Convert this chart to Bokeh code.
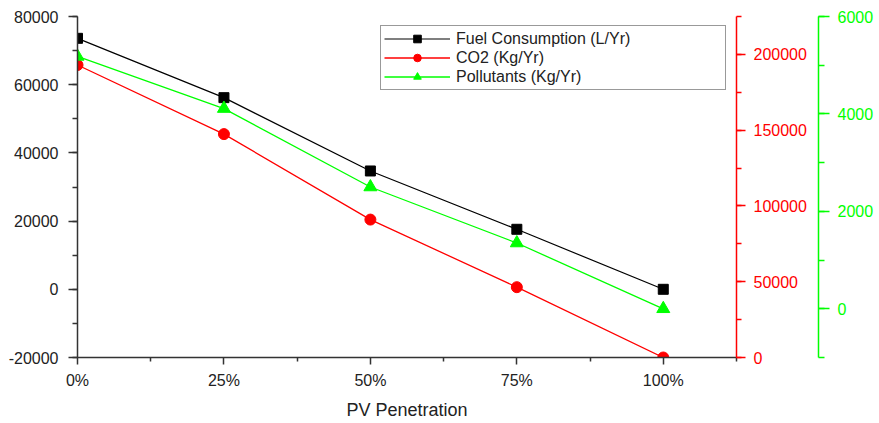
from bokeh.plotting import figure
from bokeh.models import (Range1d, LinearAxis, FixedTicker, PrintfTickFormatter,
                          Legend, LegendItem)
from bokeh.embed import file_html
from bokeh.resources import INLINE

# PV penetration levels (percent) and their tick labels
pv_share = [0, 25, 50, 75, 100]
pv_tick_labels = ["0%", "25%", "50%", "75%", "100%"]

# Yearly figures for each PV penetration level
fuel_l_per_yr = [73600, 56200, 34700, 17600, 0]
co2_kg_per_yr = [193000, 147400, 91000, 46400, 0]
pollutants_kg_per_yr = [5180, 4110, 2500, 1350, 0]

series_names = ["Fuel Consumption (L/Yr)", "CO2 (Kg/Yr)", "Pollutants (Kg/Yr)"]

FONT = "Liberation Sans"
INK = "#222222"
AXIS_GREY = "#333333"
RED = "#ff0000"
GREEN = "#00ff00"

p = figure(width=879, height=423, output_backend="svg", toolbar_location=None,
           x_range=Range1d(0, 112.5), y_range=Range1d(-20000, 80000),
           min_border_left=77, min_border_right=143,
           min_border_top=16, min_border_bottom=66)
p.outline_line_color = None
p.grid.visible = False
p.background_fill_color = "white"
p.border_fill_color = "white"
p.extra_y_ranges = {"co2": Range1d(0, 225000), "poll": Range1d(-1000, 6000)}

# x axis
xa = p.xaxis[0]
xa.ticker = FixedTicker(ticks=pv_share, minor_ticks=[12.5, 37.5, 62.5, 87.5, 112.5])
xa.major_label_overrides = {v: lab for v, lab in zip(pv_share, pv_tick_labels)}
xa.axis_label = "PV Penetration"
xa.axis_label_text_font = FONT
xa.axis_label_text_font_size = "18px"
xa.axis_label_text_font_style = "normal"
xa.axis_label_text_color = INK
xa.axis_label_standoff = 8
xa.major_label_text_font = FONT
xa.major_label_text_font_size = "16px"
xa.major_label_text_color = INK
xa.major_label_standoff = 7
xa.axis_line_color = AXIS_GREY
xa.axis_line_width = 1.5
xa.major_tick_line_color = AXIS_GREY
xa.minor_tick_line_color = AXIS_GREY
xa.major_tick_line_width = 1.5
xa.minor_tick_line_width = 1.5
xa.major_tick_in = 0
xa.major_tick_out = 7
xa.minor_tick_in = 0
xa.minor_tick_out = 4

# left axis: fuel consumption
ya = p.yaxis[0]
ya.ticker = FixedTicker(ticks=list(range(-20000, 80001, 20000)),
                        minor_ticks=list(range(-20000, 80001, 10000)))
ya.formatter = PrintfTickFormatter(format="%d")
ya.major_label_text_font = FONT
ya.major_label_text_font_size = "16px"
ya.major_label_text_color = INK
ya.major_label_standoff = 10
ya.axis_line_color = AXIS_GREY
ya.axis_line_width = 1.5
ya.major_tick_line_color = AXIS_GREY
ya.minor_tick_line_color = AXIS_GREY
ya.major_tick_line_width = 1.5
ya.minor_tick_line_width = 1.5
ya.major_tick_in = 0
ya.major_tick_out = 9
ya.minor_tick_in = 0
ya.minor_tick_out = 5


def colored_axis(range_name, color, ticks, minor, tick_out, minor_out):
    ax = LinearAxis(y_range_name=range_name)
    ax.ticker = FixedTicker(ticks=ticks, minor_ticks=minor)
    ax.formatter = PrintfTickFormatter(format="%d")
    ax.major_label_text_font = FONT
    ax.major_label_text_font_size = "16px"
    ax.major_label_text_color = color
    ax.major_label_standoff = 8
    ax.axis_line_color = color
    ax.axis_line_width = 1.5
    ax.major_tick_line_color = color
    ax.minor_tick_line_color = color
    ax.major_tick_line_width = 1.5
    ax.minor_tick_line_width = 1.5
    ax.major_tick_in = 0
    ax.major_tick_out = tick_out
    ax.minor_tick_in = 0
    ax.minor_tick_out = minor_out
    return ax


# right axes: CO2 (inner) and pollutants (outer)
co2_axis = colored_axis("co2", RED, list(range(0, 200001, 50000)),
                        list(range(0, 225001, 25000)), 9, 5)
# blank label keeps a gap between the two right-hand axes
co2_axis.axis_label = " "
co2_axis.axis_label_text_font_size = "5px"
co2_axis.axis_label_standoff = 0
p.add_layout(co2_axis, "right")

poll_axis = colored_axis("poll", GREEN, list(range(0, 6001, 2000)),
                         list(range(-1000, 6001, 1000)), 11, 6)
p.add_layout(poll_axis, "right")

# series
fuel_line = p.line(pv_share, fuel_l_per_yr, line_color="black", line_width=1.2)
fuel_pts = p.scatter(pv_share, fuel_l_per_yr, marker="square", size=10,
                     fill_color="black", line_color="black")

co2_line = p.line(pv_share, co2_kg_per_yr, line_color=RED, line_width=1.3,
                  y_range_name="co2")
co2_pts = p.scatter(pv_share, co2_kg_per_yr, marker="circle", size=11,
                    fill_color=RED, line_color=RED, y_range_name="co2")

poll_line = p.line(pv_share, pollutants_kg_per_yr, line_color=GREEN, line_width=1.3,
                   y_range_name="poll")
poll_pts = p.scatter(pv_share, pollutants_kg_per_yr, marker="triangle", size=13,
                     fill_color=GREEN, line_color=GREEN, y_range_name="poll")

legend = Legend(items=[
    LegendItem(label=series_names[0], renderers=[fuel_line, fuel_pts]),
    LegendItem(label=series_names[1], renderers=[co2_line, co2_pts]),
    LegendItem(label=series_names[2], renderers=[poll_line, poll_pts]),
], location=(303, 267))
legend.margin = 0
legend.padding = 3
legend.spacing = 0
legend.glyph_width = 66
legend.glyph_height = 19
legend.label_height = 19
legend.label_width = 266
legend.label_standoff = 6
legend.label_text_font = FONT
legend.label_text_font_size = "16px"
legend.label_text_color = INK
legend.border_line_color = AXIS_GREY
legend.border_line_width = 1.5
legend.background_fill_color = "white"
legend.background_fill_alpha = 1.0
p.add_layout(legend)

open("out.html", "w").write(file_html(p, INLINE))
